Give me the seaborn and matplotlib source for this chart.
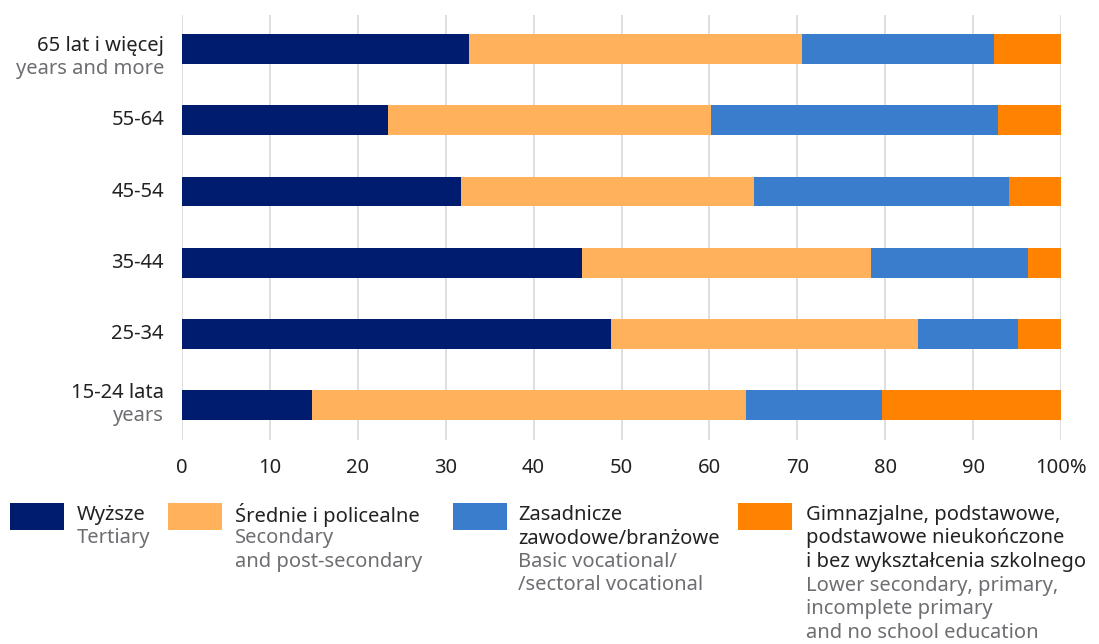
import matplotlib
matplotlib.use('Agg')
import matplotlib.pyplot as plt
import matplotlib.transforms as mtransforms
from matplotlib.patches import Rectangle
import seaborn as sns
import pandas as pd

# dane (procent)
grupy = ['65+', '55-64', '45-54', '35-44', '25-34', '15-24']
etykiety_pl = ['65 lat i więcej', '55-64', '45-54', '35-44', '25-34', '15-24 lata']
etykiety_en = ['years and more', '', '', '', '', 'years']
wyzsze = [32.7, 23.4, 31.7, 45.5, 48.8, 14.8]
srednie = [37.8, 36.8, 33.4, 32.9, 34.9, 49.4]
zasadnicze = [21.9, 32.6, 29.0, 17.8, 11.4, 15.4]
gimnazjalne = [7.6, 7.2, 5.9, 3.8, 4.9, 20.4]
ticks = [0, 10, 20, 30, 40, 50, 60, 70, 80, 90, 100]
tick_labels = ['0', '10', '20', '30', '40', '50', '60', '70', '80', '90', '100%']

kolory = ['#001c6e', '#ffb25b', '#3a7dcc', '#ff8300']
leg_pl = [['Wyższe'], ['Średnie i policealne'], ['Zasadnicze', 'zawodowe/branżowe'],
          ['Gimnazjalne, podstawowe,', 'podstawowe nieukończone', 'i bez wykształcenia szkolnego']]
leg_en = [['Tertiary'], ['Secondary', 'and post-secondary'], ['Basic vocational/', '/sectoral vocational'],
          ['Lower secondary, primary,', 'incomplete primary', 'and no school education']]

sns.set_style('white')
plt.rcParams['font.family'] = ['Noto Sans', 'DejaVu Sans']
CIEMNY = '#222222'
SZARY = '#6d6e72'
FS = 14.5

W, H = 1099, 644
fig = plt.figure(figsize=(W / 100, H / 100), dpi=100)
ax = fig.add_axes([182 / W, 1 - 440 / H, (1061 - 182) / W, (440 - 15) / H])

df = pd.DataFrame({'grupa': grupy, 'a': wyzsze, 'b': srednie, 'c': zasadnicze, 'd': gimnazjalne})
cols = ['a', 'b', 'c', 'd']
cum = df[cols].cumsum(axis=1)
for i in range(3, -1, -1):
    sns.barplot(x=cum[cols[i]], y=df['grupa'], orient='h', color=kolory[i], saturation=1,
                width=0.42, order=grupy, ax=ax, linewidth=0, zorder=3)

ax.set_xlim(0, 100)
ax.set_ylim(5.49, -0.48)
ax.set_xticks(ticks)
ax.set_xticklabels(tick_labels, fontsize=FS, color=CIEMNY)
ax.tick_params(axis='x', length=0, pad=13)
ax.set_yticks([])
ax.set_xlabel('')
ax.set_ylabel('')
for s in ax.spines.values():
    s.set_visible(False)
ax.grid(axis='x', color='#d9d9d9', linewidth=1.2, zorder=0)
ax.set_axisbelow(True)

# etykiety osi y (dwie linie)
trans = mtransforms.blended_transform_factory(fig.transFigure, ax.transData)
off1 = {0: 3, 5: 12}
for i in range(len(grupy)):
    if etykiety_en[i]:
        ax.annotate(etykiety_pl[i], xy=(164 / W, i), xycoords=trans, xytext=(0, off1[i]),
                    textcoords='offset pixels', ha='right', va='center', fontsize=FS, color=CIEMNY)
        ax.annotate(etykiety_en[i], xy=(164 / W, i), xycoords=trans, xytext=(0, off1[i] - 23),
                    textcoords='offset pixels', ha='right', va='center', fontsize=FS, color=SZARY)
    else:
        ax.annotate(etykiety_pl[i], xy=(164 / W, i), xycoords=trans, xytext=(0, 0),
                    textcoords='offset pixels', ha='right', va='center', fontsize=FS, color=CIEMNY)

# legenda
patch_x = [10, 168, 453, 738]
text_x = [77, 235, 518, 806]
for k in range(4):
    fig.patches.append(Rectangle((patch_x[k] / W, 1 - 530 / H), 54 / W, 27 / H,
                                 transform=fig.transFigure, color=kolory[k], linewidth=0))
    y = 515
    for line in leg_pl[k]:
        fig.text(text_x[k] / W, 1 - y / H, line, fontsize=FS, color=CIEMNY, va='center')
        y += 23.5
    for line in leg_en[k]:
        fig.text(text_x[k] / W, 1 - y / H, line, fontsize=FS, color=SZARY, va='center')
        y += 23.5

fig.savefig('out.png', dpi=100)
